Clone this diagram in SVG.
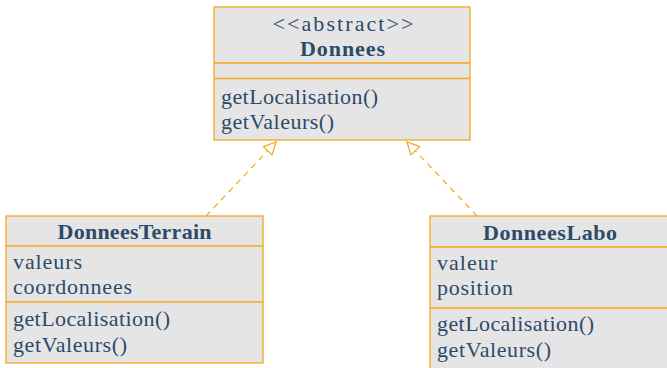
<svg xmlns="http://www.w3.org/2000/svg" width="667" height="368" viewBox="0 0 667 368">
<defs>
<style>
.box{fill:#e5e5e5;stroke:#f6a81c;stroke-width:1.3}
.div{stroke:#f6a81c;stroke-width:1.3}
text{font-family:"Liberation Serif","DejaVu Serif",serif;font-size:22px;fill:#2d4a6a}
.t{font-weight:bold;text-anchor:middle}
.c{text-anchor:middle}
.conn{stroke:#f6a81c;stroke-width:1.2;fill:none;stroke-dasharray:6,5}
</style>
<marker id="tri" viewBox="0 0 14 14" refX="13" refY="7" markerWidth="14" markerHeight="14" markerUnits="userSpaceOnUse" orient="auto">
<path d="M1,1 L13,7 L1,13 Z" fill="#fff" stroke="#f6a81c" stroke-width="1.2" stroke-dasharray="none"/>
</marker>
</defs>
<g id="connectors">
<path class="conn" d="M206,216 L276,142" marker-end="url(#tri)"/>
<path class="conn" d="M477,216 L407,142" marker-end="url(#tri)"/>
</g>
<g id="Donnees">
<rect class="box" x="214" y="7" width="256" height="133"/>
<line class="div" x1="214" y1="63" x2="470" y2="63"/>
<line class="div" x1="214" y1="78.5" x2="470" y2="78.5"/>
<text class="c" x="343" y="31" textLength="141" lengthAdjust="spacing">&lt;&lt;abstract&gt;&gt;</text>
<text class="t" x="342.5" y="56" textLength="85" lengthAdjust="spacing">Donnees</text>
<text x="221" y="104" textLength="157" lengthAdjust="spacing">getLocalisation()</text>
<text x="221" y="129" textLength="113" lengthAdjust="spacing">getValeurs()</text>
</g>
<g id="DonneesTerrain">
<rect class="box" x="6" y="216" width="257" height="147"/>
<line class="div" x1="6" y1="246" x2="263" y2="246"/>
<line class="div" x1="6" y1="302" x2="263" y2="302"/>
<text class="t" x="134.5" y="239" textLength="154" lengthAdjust="spacing">DonneesTerrain</text>
<text x="13" y="269" textLength="69" lengthAdjust="spacing">valeurs</text>
<text x="13" y="294" textLength="119" lengthAdjust="spacing">coordonnees</text>
<text x="13" y="326" textLength="157" lengthAdjust="spacing">getLocalisation()</text>
<text x="13" y="352" textLength="114" lengthAdjust="spacing">getValeurs()</text>
</g>
<g id="DonneesLabo">
<rect class="box" x="430" y="216" width="250" height="160"/>
<line class="div" x1="430" y1="247" x2="667" y2="247"/>
<line class="div" x1="430" y1="308" x2="667" y2="308"/>
<text class="t" x="550" y="240" textLength="134" lengthAdjust="spacing">DonneesLabo</text>
<text x="437" y="270" textLength="60" lengthAdjust="spacing">valeur</text>
<text x="437" y="295" textLength="76" lengthAdjust="spacing">position</text>
<text x="437" y="331" textLength="157" lengthAdjust="spacing">getLocalisation()</text>
<text x="437" y="357" textLength="114" lengthAdjust="spacing">getValeurs()</text>
</g>
</svg>
